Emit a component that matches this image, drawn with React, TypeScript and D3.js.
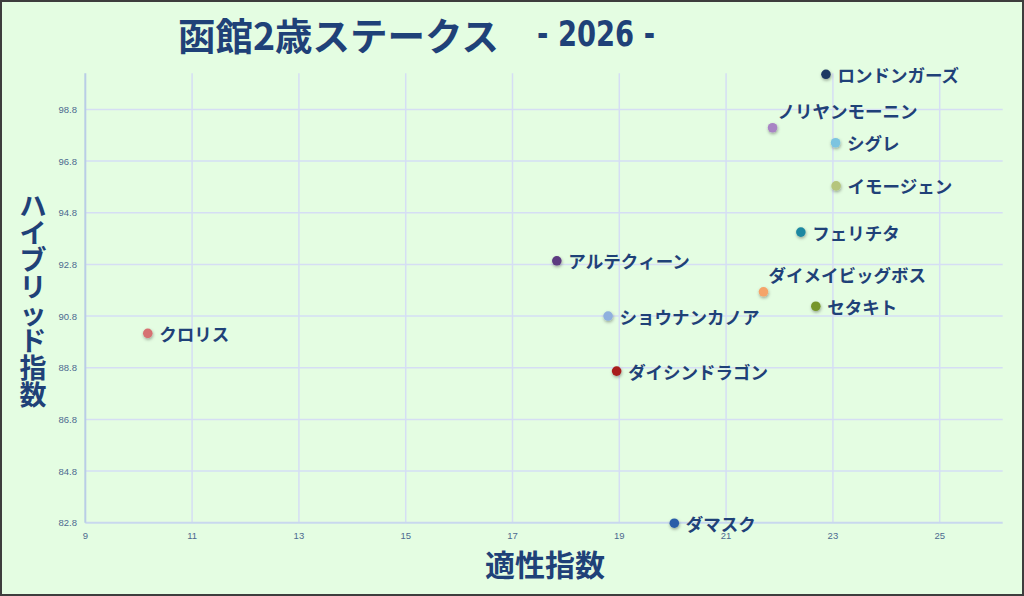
import React from "react";
import * as d3 from "d3";

const names = ["ロンドンガーズ", "ノリヤンモーニン", "シグレ", "イモージェン", "フェリチタ", "アルテクィーン", "ダイメイビッグボス", "セタキト", "ショウナンカノア", "ダイシンドラゴン", "クロリス", "ダマスク"];
const aptitude = [22.87, 21.87, 23.05, 23.06, 22.4, 17.83, 21.7, 22.68, 18.79, 18.95, 10.17, 20.03];
const hybrid = [100.16, 98.09, 97.51, 95.84, 94.05, 92.94, 91.74, 91.18, 90.8, 88.67, 90.13, 82.78];
const colors = ["#1f3864", "#a884c4", "#7cc4e0", "#b5c57c", "#1f87a1", "#5c3b80", "#f5a46a", "#76962c", "#8fb0de", "#a81e1e", "#d67172", "#2b5ca8"];
const labelAbove = [false, true, false, false, false, false, true, false, false, false, false, false];
const xTicks = [9, 11, 13, 15, 17, 19, 21, 23, 25];
const yTicks = [82.8, 84.8, 86.8, 88.8, 90.8, 92.8, 94.8, 96.8, 98.8];
const titleMain = "函館2歳ステークス";
const titleYear = "- 2026 -";
const xTitle = "適性指数";
const yTitle = "ハイブリッド指数";

const W = 1024, H = 596;
const left = 85.3, right = 1002.7, top = 73.3, bottom = 522.7;

export default function App() {
  const x = d3.scaleLinear().domain([9, 9 + (right - left) / 53.4]).range([left, right]);
  const y = d3.scaleLinear().domain([82.8, 82.8 + (bottom - top) / 25.83]).range([bottom, top]);
  const navy = "#1f4178";
  const cjk = "'Noto Sans CJK JP', 'Noto Sans', sans-serif";
  return (
    <svg width={W} height={H} style={{ position: "absolute", left: 0, top: 0 }}>
      <defs>
        <filter id="sh" x="-100%" y="-100%" width="300%" height="300%">
          <feDropShadow dx="0.5" dy="1.5" stdDeviation="1.5" floodColor="#000" floodOpacity="0.35" />
        </filter>
      </defs>
      <rect x={1} y={1} width={W - 2} height={H - 2} fill="#e4fde2" stroke="#3d3d3d" strokeWidth={2} />
      {yTicks.slice(1).map((t) => (
        <line key={"gy" + t} x1={left} x2={right} y1={y(t)} y2={y(t)} stroke="#d5def4" strokeWidth={1.5} />
      ))}
      {xTicks.slice(1).map((t) => (
        <line key={"gx" + t} x1={x(t)} x2={x(t)} y1={top} y2={bottom} stroke="#d5def4" strokeWidth={1.5} />
      ))}
      <line x1={left} x2={right} y1={bottom} y2={bottom} stroke="#c9d8ee" strokeWidth={2} />
      <line x1={left} x2={left} y1={top} y2={bottom} stroke="#b9cde6" strokeWidth={2} />
      {xTicks.map((t) => (
        <text key={"tx" + t} x={x(t)} y={535} fontSize={9.5} fill="#4d6a90" textAnchor="middle" dominantBaseline="central" fontFamily="'Liberation Sans', sans-serif">{t}</text>
      ))}
      {yTicks.map((t) => (
        <text key={"ty" + t} x={77} y={y(t)} fontSize={9.5} fill="#4d6a90" textAnchor="end" dominantBaseline="central" fontFamily="'Liberation Sans', sans-serif">{t.toFixed(1)}</text>
      ))}
      {names.map((n, i) => {
        const cx = x(aptitude[i]), cy = y(hybrid[i]);
        return (
          <g key={n}>
            <circle cx={cx} cy={cy} r={4.8} fill={colors[i]} filter="url(#sh)" />
            <text
              x={labelAbove[i] ? cx + 5 : cx + 11.5}
              y={labelAbove[i] ? cy - 17.5 : cy}
              fontSize={17.5}
              fontWeight="bold"
              fill={navy}
              dominantBaseline="central"
              fontFamily={cjk}
            >{n}</text>
          </g>
        );
      })}
      <text x={178} y={33} fontSize={37.5} fontWeight="bold" fill={navy} dominantBaseline="central" fontFamily={cjk}>{titleMain}</text>
      <text x={537} y={33} fontSize={36} fontWeight="bold" fill={navy} dominantBaseline="central" fontFamily="'DejaVu Sans Condensed', 'Liberation Sans Narrow', sans-serif" textLength={118} lengthAdjust="spacingAndGlyphs">{titleYear}</text>
      <text x={545} y={563} fontSize={30} fontWeight="bold" fill={navy} textAnchor="middle" dominantBaseline="central" fontFamily={cjk}>{xTitle}</text>
      <text fontSize={27} fontWeight="bold" fill={navy} textAnchor="middle" dominantBaseline="central" fontFamily={cjk}>
        {Array.from(yTitle).map((c, i) => (
          <tspan key={"yt" + i} x={33} y={203.5 + i * 27}>{c}</tspan>
        ))}
      </text>
    </svg>
  );
}
